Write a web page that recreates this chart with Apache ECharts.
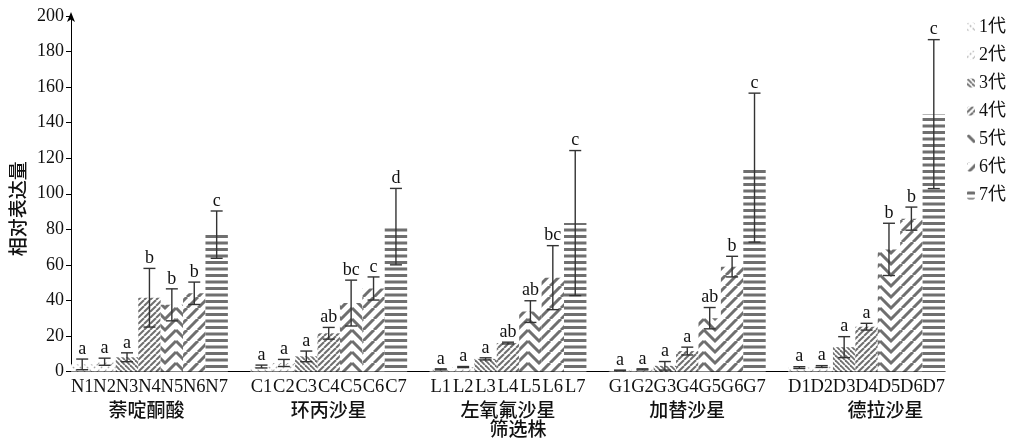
<!DOCTYPE html>
<html>
<head>
<meta charset="utf-8">
<script src="https://cdn.jsdelivr.net/npm/echarts@6.0.0/dist/echarts.min.js"></script>
<style>
  html, body { margin: 0; padding: 0; background: #fff; }
  #chart { width: 1016px; height: 444px; }
</style>
</head>
<body>
<div id="chart"></div>
<script>
// Drug groups, strain prefixes and passage generations
const drugs = ['萘啶酮酸', '环丙沙星', '左氧氟沙星', '加替沙星', '德拉沙星'];
const strainPrefix = ['N', 'C', 'L', 'G', 'D'];
const generations = ['1代', '2代', '3代', '4代', '5代', '6代', '7代'];
const yTicks = [0, 20, 40, 60, 80, 100, 120, 140, 160, 180, 200];

// Relative expression (mean), error (SD) and significance letters per drug, generations 1-7
const meanNalidixic = [4.0, 5.5, 8.0, 41.5, 37.5, 44.0, 77.0];
const errNalidixic  = [3.0, 2.0, 2.5, 16.5, 9.0, 6.3, 13.3];
const sigNalidixic  = ['a', 'a', 'a', 'b', 'b', 'b', 'c'];

const meanCipro = [2.8, 4.8, 8.5, 21.5, 38.5, 46.7, 81.5];
const errCipro  = [0.8, 2.0, 3.0, 3.3, 12.9, 6.5, 21.5];
const sigCipro  = ['a', 'a', 'a', 'ab', 'bc', 'c', 'd'];

const meanLevo = [1.2, 2.5, 7.1, 16.0, 33.7, 52.8, 83.5];
const errLevo  = [0.3, 0.3, 0.6, 0.5, 6.1, 18.0, 40.8];
const sigLevo  = ['a', 'a', 'a', 'ab', 'ab', 'bc', 'c'];

const meanGati = [0.6, 1.2, 3.2, 11.5, 30.0, 59.0, 114.7];
const errGati  = [0.2, 0.3, 2.4, 2.2, 6.0, 5.8, 41.9];
const sigGati  = ['a', 'a', 'a', 'a', 'ab', 'b', 'c'];

const meanDela = [2.2, 2.8, 13.7, 25.2, 68.7, 86.0, 144.8];
const errDela  = [0.5, 0.5, 5.9, 1.9, 14.7, 6.5, 41.9];
const sigDela  = ['a', 'a', 'a', 'a', 'b', 'b', 'c'];

const means = [meanNalidixic, meanCipro, meanLevo, meanGati, meanDela];
const errs  = [errNalidixic, errCipro, errLevo, errGati, errDela];
const sigs  = [sigNalidixic, sigCipro, sigLevo, sigGati, sigDela];

// ---- fill patterns ----
const INK = '#6f6f6f';
function tile(w, h, draw) {
  const c = document.createElement('canvas');
  c.width = w; c.height = h;
  const ctx = c.getContext('2d');
  ctx.fillStyle = '#fff';
  ctx.fillRect(0, 0, w, h);
  draw(ctx, w, h);
  return { image: c, repeat: 'repeat' };
}
function diag(ctx, w, h, dir, color, lw, dash) {
  ctx.strokeStyle = color; ctx.lineWidth = lw;
  if (dash) ctx.setLineDash(dash);
  for (let k = -2; k <= 2; k++) {
    ctx.beginPath();
    if (dir > 0) { ctx.moveTo(k * w, h); ctx.lineTo(k * w + w, 0); }
    else { ctx.moveTo(k * w, 0); ctx.lineTo(k * w + w, h); }
    ctx.stroke();
  }
}
const patterns = [
  tile(7, 7, (c, w, h) => diag(c, w, h, -1, '#a8a8a8', 1.2, [2, 2])),
  tile(7, 7, (c, w, h) => diag(c, w, h, 1, '#a8a8a8', 1.2, [2, 2])),
  tile(5, 5, (c, w, h) => diag(c, w, h, -1, INK, 1.8)),
  tile(6, 6, (c, w, h) => diag(c, w, h, 1, INK, 2.0)),
  tile(22, 11, (c, w, h) => {
    c.strokeStyle = INK; c.lineWidth = 3.0;
    for (let k = -1; k <= 1; k++) {
      c.beginPath();
      c.moveTo(0, k * h); c.lineTo(w / 2, k * h + h); c.lineTo(w, k * h);
      c.stroke();
    }
  }),
  tile(11, 11, (c, w, h) => diag(c, w, h, 1, INK, 3.0)),
  tile(13, 13, (c, w, h) => {
    c.fillStyle = INK;
    c.fillRect(0, 1, w, 3);
    c.fillRect(0, 7.5, w, 3);
  })
];

// ---- categories: 7 strains per drug with one empty slot between drugs ----
const categories = [];
const slotOf = [];
strainPrefix.forEach((p, g) => {
  slotOf.push([]);
  for (let i = 0; i < 7; i++) { slotOf[g].push(categories.length); categories.push(p + (i + 1)); }
  if (g < strainPrefix.length - 1) categories.push('');
});

const barSeries = generations.map((name, k) => {
  const data = categories.map(() => '-');
  means.forEach((m, g) => { data[slotOf[g][k]] = m[k]; });
  return {
    name, type: 'bar', data,
    barGap: '-100%', barCategoryGap: '0%',
    itemStyle: { color: patterns[k] },
    emphasis: { disabled: true }
  };
});

const errData = [];
const errLetters = [];
means.forEach((m, g) => m.forEach((v, k) => {
  errData.push([slotOf[g][k], v, errs[g][k]]);
  errLetters.push(sigs[g][k]);
}));

const SERIF = '"Liberation Serif", "Noto Sans CJK SC", serif';
const CJK = '"Noto Sans CJK SC", sans-serif';

const chart = echarts.init(document.getElementById('chart'), null, { renderer: 'canvas' });
chart.setOption({
  animation: false,
  backgroundColor: '#fff',
  grid: { left: 71, right: 71, top: 16, bottom: 72.5 },
  legend: {
    orient: 'vertical', right: 5, top: 13,
    itemWidth: 8, itemHeight: 9, itemGap: 10,
    data: generations,
    textStyle: { fontFamily: SERIF, fontSize: 18, color: '#111', lineHeight: 17.5, padding: [0, 0, 0, -1] }
  },
  xAxis: {
    type: 'category', data: categories,
    axisLine: { lineStyle: { color: '#000', width: 1 } },
    axisTick: { show: false },
    axisLabel: { interval: 0, margin: 6, fontFamily: SERIF, fontSize: 18.5, color: '#111' }
  },
  yAxis: {
    type: 'value', min: yTicks[0], max: yTicks[yTicks.length - 1], interval: 20,
    splitLine: { show: false },
    axisLine: { show: true, lineStyle: { color: '#000', width: 1 }, symbol: ['none', 'arrow'], symbolSize: [6, 10], symbolOffset: [0, 4] },
    axisTick: { show: true, length: 5, lineStyle: { color: '#000' } },
    axisLabel: { margin: 7, fontFamily: SERIF, fontSize: 18, color: '#111' }
  },
  series: barSeries.concat([{
    type: 'custom', name: 'err',
    data: errData,
    encode: { x: 0, y: 1 },
    z: 10,
    renderItem(params, api) {
      const xi = api.value(0), m = api.value(1), e = api.value(2);
      const hi = api.coord([xi, m + e]);
      const lo = api.coord([xi, Math.max(m - e, 0)]);
      const hw = 6;
      const st = { stroke: '#333', lineWidth: 1.4 };
      return {
        type: 'group',
        children: [
          { type: 'line', shape: { x1: hi[0], y1: hi[1], x2: lo[0], y2: lo[1] }, style: st },
          { type: 'line', shape: { x1: hi[0] - hw, y1: hi[1], x2: hi[0] + hw, y2: hi[1] }, style: st },
          { type: 'line', shape: { x1: lo[0] - hw, y1: lo[1], x2: lo[0] + hw, y2: lo[1] }, style: st },
          { type: 'text', x: hi[0], y: hi[1] - 1,
            style: { text: errLetters[params.dataIndex], align: 'center', verticalAlign: 'bottom',
                     font: '18px ' + SERIF, fill: '#111' } }
        ]
      };
    }
  }])
});

// drug names under each group, centred on the middle strain
const nameShift = [-3, 0, 0, 0, 19];
const groupNames = drugs.map((d, g) => {
  const px = chart.convertToPixel({ xAxisIndex: 0 }, categories[slotOf[g][3]]);
  return {
    type: 'text', x: px + nameShift[g], y: 410,
    style: { text: d, align: 'center', verticalAlign: 'middle', font: '500 19px ' + CJK, fill: '#111' }
  };
});
const yZero = chart.convertToPixel({ yAxisIndex: 0 }, 0);
const yMax = chart.convertToPixel({ yAxisIndex: 0 }, 200);
chart.setOption({
  graphic: groupNames.concat([
    { type: 'text', x: 518, y: 429,
      style: { text: '筛选株', align: 'center', verticalAlign: 'middle', font: '500 19px ' + CJK, fill: '#111' } },
    { type: 'text', x: 18, y: (yZero + yMax) / 2 + 15, rotation: Math.PI / 2,
      style: { text: '相对表达量', align: 'center', verticalAlign: 'middle', font: '500 19px ' + CJK, fill: '#111' } }
  ])
});
</script>
</body>
</html>
